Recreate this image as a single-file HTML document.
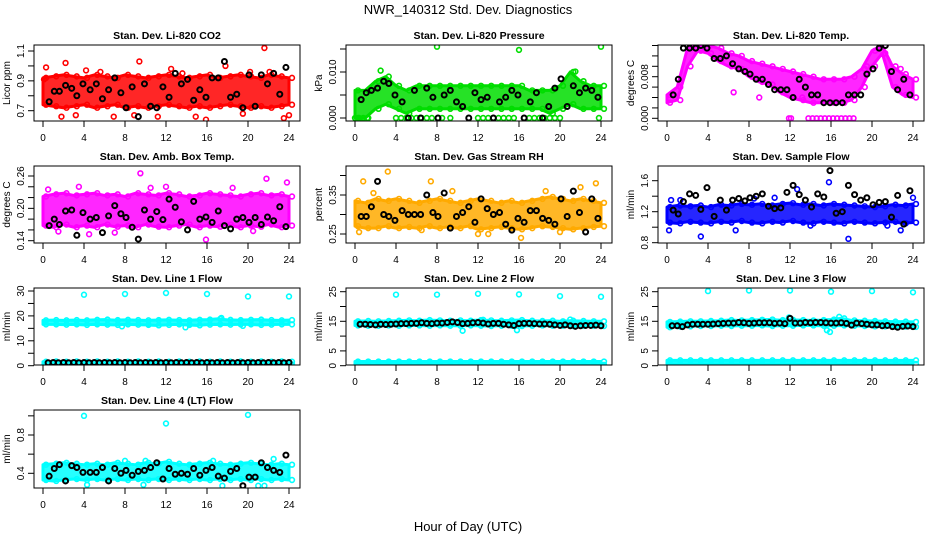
<!DOCTYPE html>
<html><head><meta charset="utf-8"><style>
body{margin:0;background:#fff}
svg{display:block;font-family:"Liberation Sans",Helvetica,Arial,sans-serif}
</style></head><body>
<svg id="chart" width="936" height="540" viewBox="0 0 936 540">
<text x="468" y="14" text-anchor="middle" font-size="13">NWR_140312  Std. Dev. Diagnostics</text>
<text x="468" y="531" text-anchor="middle" font-size="13">Hour of Day (UTC)</text>
</svg>
<script>
const hours=[0,1,2,3,4,5,6,7,8,9,10,11,12,13,14,15,16,17,18,19,20,21,22,23,24];
const xTicks=[0,4,8,12,16,20,24];
const bx=[0.6,1.1,1.6,2.2,2.8,3.3,3.9,4.6,5.2,5.8,6.4,7.0,7.6,8.1,8.7,9.3,9.9,10.5,11.1,11.7,12.3,12.9,13.5,14.1,14.7,15.3,15.9,16.5,17.1,17.7,18.3,18.9,19.5,20.1,20.7,21.3,21.9,22.5,23.1,23.7];
const bxl=[0.5,1,1.5,2,2.5,3,3.5,4,4.5,5,5.5,6,6.5,7,7.5,8,8.5,9,9.5,10,10.5,11,11.5,12,12.5,13,13.5,14,14.5,15,15.5,16,16.5,17,17.5,18,18.5,19,19.5,20,20.5,21,21.5,22,22.5,23,23.5,24];

// Panel 1 CO2
const co2Lo=[0.74,0.73,0.72,0.73,0.74,0.72,0.73,0.74,0.72,0.73,0.72,0.73,0.74,0.73,0.72,0.73,0.72,0.73,0.74,0.73,0.72,0.73,0.72,0.73,0.74];
const co2Hi=[0.92,0.93,0.94,0.93,0.92,0.94,0.93,0.92,0.94,0.93,0.92,0.93,0.94,0.93,0.92,0.93,0.94,0.92,0.93,0.94,0.93,0.92,0.94,0.93,0.92];
const co2Cx=[2.2,9.4,21.6,0.3,15.9,23.5,4.2,12.5,17.8,1.8,6.9,8.9,11.2,14.9,19.5,3.2,20.2,22.1,5.6,13.6,0.1,24];
const co2Cy=[1.02,1.03,1.12,0.99,0.64,0.65,0.97,0.98,1.0,0.66,0.66,0.67,0.66,0.66,0.68,0.67,0.96,0.96,0.96,0.95,0.91,0.67];
const co2Bk=[0.76,0.83,0.83,0.87,0.85,0.80,0.88,0.84,0.88,0.78,0.84,0.92,0.82,0.72,0.86,0.66,0.88,0.73,0.72,0.86,0.79,0.95,0.88,0.91,0.77,0.84,0.79,0.92,0.92,1.03,0.79,0.81,0.72,0.94,0.73,0.94,0.88,0.95,0.81,0.99];
// Panel 2 Pressure
const prLo=[0,0,0.002,0.003,0.002,0.001,0.002,0.002,0.002,0.002,0.002,0.002,0.002,0.002,0.002,0.002,0.002,0.002,0.002,0.001,0.002,0.003,0.002,0.002,0.002];
const prHi=[0.006,0.006,0.008,0.009,0.007,0.006,0.007,0.007,0.007,0.007,0.007,0.007,0.007,0.007,0.007,0.007,0.007,0.006,0.006,0.006,0.007,0.010,0.008,0.007,0.007];
const prCx=[0,0.4,0.8,1.2,4,4.5,5,5.5,6,6.5,7,7.5,8.5,9.3,12,12.5,13,13.5,14,14.5,15,15.5,16.5,17,17.5,18,18.5,19,19.5,20,23.8,8,16,24,2.5,21.5];
const prCy=[0,0,0,0,0,0,0,0,0,0,0,0,0,0,0,0,0,0,0,0,0,0,0,0,0,0,0,0,0,0,0,0.0155,0.0148,0.0155,0.0103,0.0101];
const prBk=[0.004,0.0055,0.006,0.0065,0.008,0.0075,0.005,0.0035,0,0.006,0.0,0.0065,0.0045,0.0,0.005,0.006,0.0035,0.0025,0.0,0.0055,0.004,0.0045,0.0,0.0035,0.0045,0.006,0.005,0.0,0.0035,0.0055,0.0,0.0025,0.0065,0.0085,0.0025,0.007,0.0055,0.0065,0.006,0.0045];
// Panel 3 Li-820 temp
const tmLo=[0.003,0.0035,0.010,0.013,0.0125,0.011,0.010,0.0095,0.008,0.007,0.0065,0.005,0.004,0.0035,0.003,0.003,0.003,0.003,0.0035,0.006,0.010,0.0125,0.006,0.0045,0.004];
const tmHi=[0.0045,0.006,0.0135,0.014,0.014,0.0135,0.0125,0.012,0.011,0.0105,0.010,0.0095,0.009,0.0085,0.008,0.0075,0.0075,0.0075,0.008,0.0095,0.013,0.014,0.010,0.0085,0.0075];
const tmCx=[11.9,12.1,13.8,14.2,14.6,15,15.4,15.8,16.2,16.6,17,17.4,17.8,18.2,6.5,9,13.2,2.8,22.8,19.5];
const tmCy=[0,0,0,0,0,0,0,0,0,0,0,0,0,0,0.005,0.004,0.004,0.0135,0.0095,0.010];
const tmBk=[0.0045,0.0075,0.0135,0.0135,0.0135,0.014,0.0135,0.0115,0.0115,0.012,0.0105,0.0095,0.009,0.0085,0.0075,0.0075,0.0065,0.0055,0.0055,0.0055,0.004,0.0075,0.006,0.0045,0.0045,0.003,0.003,0.003,0.003,0.0045,0.0045,0.0045,0.0085,0.0095,0.0135,0.014,0.009,0.0055,0.0075,0.0045];
// Panel 4 Amb box temp
const abLo=[0.168,0.165,0.17,0.165,0.168,0.165,0.17,0.166,0.168,0.165,0.17,0.166,0.165,0.168,0.17,0.165,0.168,0.166,0.17,0.165,0.168,0.166,0.17,0.165,0.168];
const abHi=[0.222,0.226,0.228,0.224,0.226,0.228,0.224,0.226,0.222,0.228,0.226,0.224,0.228,0.226,0.222,0.224,0.228,0.226,0.224,0.222,0.226,0.228,0.224,0.226,0.222];
const abCx=[9.5,21.8,23.8,3.5,15.9,1.5,7,12,0.5,18.5,10.5,4.5,20.5];
const abCy=[0.265,0.255,0.248,0.24,0.142,0.157,0.155,0.24,0.235,0.238,0.238,0.152,0.158];
const abBk=[0.168,0.18,0.17,0.195,0.197,0.15,0.192,0.18,0.183,0.155,0.186,0.205,0.19,0.183,0.165,0.143,0.197,0.18,0.194,0.179,0.217,0.202,0.175,0.16,0.213,0.18,0.184,0.174,0.195,0.168,0.162,0.18,0.183,0.174,0.183,0.17,0.184,0.177,0.203,0.166];
// Panel 5 Gas stream RH
const rhLo=[0.27,0.265,0.265,0.27,0.265,0.268,0.265,0.27,0.265,0.268,0.265,0.27,0.262,0.265,0.268,0.265,0.262,0.265,0.27,0.268,0.265,0.262,0.265,0.268,0.27];
const rhHi=[0.335,0.33,0.34,0.335,0.34,0.335,0.33,0.335,0.34,0.335,0.33,0.335,0.34,0.335,0.33,0.335,0.33,0.335,0.34,0.345,0.34,0.335,0.34,0.335,0.33];
const rhCx=[3.2,0.8,7.4,23.5,16.2,0.4,18.6,22,9.5,1.8,13,6.5,12,20];
const rhCy=[0.41,0.385,0.385,0.38,0.24,0.255,0.36,0.37,0.36,0.355,0.25,0.26,0.25,0.255];
const rhBk=[0.295,0.295,0.32,0.385,0.3,0.295,0.285,0.31,0.3,0.3,0.3,0.35,0.305,0.295,0.355,0.265,0.295,0.305,0.32,0.28,0.34,0.315,0.3,0.305,0.275,0.26,0.29,0.28,0.31,0.31,0.29,0.285,0.275,0.34,0.295,0.36,0.305,0.255,0.34,0.29];
// Panel 6 Sample flow
const sfLo=[1.06,1.05,1.07,1.06,1.05,1.07,1.06,1.08,1.06,1.05,1.07,1.06,1.08,1.06,1.05,1.07,1.06,1.05,1.07,1.06,1.05,1.06,1.07,1.05,1.06];
const sfHi=[1.26,1.28,1.27,1.28,1.26,1.29,1.28,1.30,1.29,1.30,1.28,1.30,1.31,1.29,1.30,1.28,1.30,1.29,1.28,1.27,1.26,1.27,1.29,1.28,1.30];
const sfCx=[15.8,3.3,17.7,6.7,0.2,12.7,24,0.4,10.5,14,21.5,22.8,1.3,8.5];
const sfCy=[1.58,0.88,0.85,0.96,0.96,1.49,1.38,1.35,1.38,1.02,1.02,0.96,1.35,1.37];
const sfBk=[1.22,1.17,1.33,1.43,1.41,1.23,1.51,1.14,1.35,1.22,1.35,1.37,1.34,1.38,1.4,1.43,1.27,1.24,1.25,1.45,1.54,1.42,1.35,1.26,1.43,1.39,1.73,1.18,1.2,1.54,1.42,1.35,1.38,1.29,1.32,1.33,1.13,1.41,1.04,1.47];
// Panel 7 Line 1 flow
const l1Lo=[16.6,16.6,16.5,16.6,16.4,16.6,16.5,16.4,16.6,16.5,16.4,16.2,16.4,16.6,16.4,16.2,16.5,16.6,16.5,16.6,16.6,16.4,16.5,16.6,16.6];
const l1Hi=[18.2,18.3,18.2,18.3,18.2,18.4,18.5,18.3,18.4,18.3,18.2,18.3,18.4,18.3,18.2,18.4,18.5,18.8,18.4,18.3,18.4,18.5,18.3,18.2,18.3];
const l1Lo2=[0.5,0.5,0.4,0.5,0.5,0.5,0.4,0.5,0.5,0.5,0.4,0.5,0.5,0.5,0.4,0.5,0.5,0.5,0.4,0.5,0.5,0.5,0.4,0.5,0.5];
const l1Hi2=[1.6,1.7,1.6,1.7,1.6,1.7,1.6,1.7,1.6,1.7,1.6,1.7,1.6,1.7,1.6,1.7,1.6,1.7,1.6,1.7,1.6,1.7,1.6,1.7,1.6];
const l1Cx=[4,8,12,16,20,24,7.7,13.9,17.4,19.5];
const l1Cy=[28.5,28.8,29.2,28.8,27.8,27.8,15.8,15.4,19.2,16];
const l1Bk=[1.2,1.3,1.2,1.3,1.2,1.3,1.2,1.3,1.2,1.3,1.2,1.3,1.2,1.3,1.2,1.3,1.2,1.3,1.2,1.3,1.2,1.3,1.2,1.3,1.2,1.3,1.2,1.3,1.2,1.3,1.2,1.3,1.2,1.3,1.2,1.3,1.2,1.3,1.2,1.3,1.2,1.3,1.2,1.3,1.2,1.3,1.2,1.3];
// Panel 8 Line 2 flow
const l2Lo=[13.6,13.5,13.5,13.6,13.5,13.6,13.6,13.5,13.6,13.5,13.5,13.6,13.5,13.4,13.5,13.5,13.4,13.5,13.6,13.5,13.5,13.4,13.5,13.5,13.4];
const l2Hi=[15,15.1,15,15.1,15.2,15.3,15.2,15.4,15.3,15.2,15.3,15.2,15.4,15.3,15.2,15.3,15.4,15.2,15.1,15.2,15,15.2,15.1,15,15];
const l2Lo2=[0.3,0.3,0.3,0.3,0.3,0.3,0.3,0.3,0.3,0.3,0.3,0.3,0.3,0.3,0.3,0.3,0.3,0.3,0.3,0.3,0.3,0.3,0.3,0.3,0.3];
const l2Hi2=[1.4,1.4,1.4,1.4,1.4,1.4,1.4,1.4,1.4,1.4,1.4,1.4,1.4,1.4,1.4,1.4,1.4,1.4,1.4,1.4,1.4,1.4,1.4,1.4,1.4];
const l2Cx=[4,8,12,16,20,24,10.5,15.8,12.5,21];
const l2Cy=[24,24,24.3,24.1,23.5,23.3,11.8,12,15.5,15.6];
const l2Bk=[14,14,13.9,13.8,14,13.9,14,14.1,14.2,14.2,14.3,14.3,14.5,14.3,14.2,14.4,14.4,14.6,14.8,14.6,14.2,14.3,14.5,14.6,14.4,14.1,14.3,14.3,14.0,13.8,13.6,14.2,14.3,14.3,14.2,14.1,14.1,14.0,13.8,13.6,13.8,13.5,13.3,13.5,13.6,13.6,13.7,13.5];
// Panel 9 Line 3 flow
const l3Lo=[13,13.2,13.3,13.4,13.4,13.5,13.4,13.5,13.5,13.6,13.4,13.5,13.5,13.6,13.6,13.5,13.5,13.6,13.5,13.4,13.3,13.3,13.2,13.2,13.1];
const l3Hi=[14.8,14.9,15,15,15.1,15.2,15.4,15.3,15.4,15.5,15.6,15.4,15.5,15.4,15.3,15.4,15.6,16,15.3,15.2,15.1,15,14.9,14.9,14.8];
const l3Lo2=[0.6,0.6,0.6,0.6,0.6,0.6,0.6,0.6,0.6,0.6,0.6,0.6,0.6,0.6,0.6,0.6,0.6,0.6,0.6,0.6,0.6,0.6,0.6,0.6,0.6];
const l3Hi2=[1.8,1.8,1.8,1.8,1.8,1.8,1.8,1.8,1.8,1.8,1.8,1.8,1.8,1.8,1.8,1.8,1.8,1.8,1.8,1.8,1.8,1.8,1.8,1.8,1.8];
const l3Cx=[4,8,12,16,20,24,15.6,15.9,11.9,16.8];
const l3Cy=[25.2,25.4,25.4,25,25.2,24.8,12,11.4,16.3,16.5];
const l3Bk=[13.5,13.5,13.2,13.8,14,14,14,14,14.1,14.2,14.3,14.4,14.4,14.6,14.5,14.3,14.4,14.5,14.5,14.5,14.3,14.4,14.2,16,14.4,14.4,14.6,14.5,14.6,14.6,14.5,14.4,14.4,14.5,14.3,13.7,14.4,14.2,14.0,13.8,13.8,13.5,13.6,13.2,13.0,13.3,13.4,13.2];
// Panel 10 Line 4 flow
const l4Lo=[0.33,0.32,0.33,0.34,0.33,0.34,0.33,0.34,0.33,0.34,0.33,0.34,0.33,0.34,0.33,0.34,0.33,0.34,0.33,0.34,0.33,0.34,0.33,0.34,0.33];
const l4Hi=[0.49,0.5,0.51,0.5,0.49,0.5,0.49,0.51,0.5,0.49,0.51,0.5,0.52,0.5,0.49,0.5,0.51,0.5,0.49,0.5,0.51,0.5,0.49,0.5,0.49];
const l4Cx=[4,12,20,8,10,22.5,17.5,21,4.3,9.8,16.6,21.6];
const l4Cy=[1.0,0.92,1.01,0.53,0.53,0.55,0.27,0.27,0.28,0.28,0.53,0.27];
const l4Bk=[0.37,0.45,0.49,0.32,0.48,0.46,0.41,0.41,0.41,0.46,0.32,0.45,0.4,0.43,0.38,0.42,0.43,0.46,0.51,0.34,0.45,0.39,0.4,0.39,0.45,0.38,0.43,0.46,0.37,0.35,0.42,0.45,0.27,0.36,0.36,0.51,0.46,0.43,0.41,0.59];

const NS='http://www.w3.org/2000/svg';
const svg=document.getElementById('chart');
function mk(tag,attrs,parent){const e=document.createElementNS(NS,tag);for(const k in attrs)e.setAttribute(k,attrs[k]);(parent||svg).appendChild(e);return e;}

const colL=[34,346,658], rowT=[45,166,288,410], rowB=[121,243,365,488];

const panels=[
 {key:'co2',title:'Stan. Dev. Li-820 CO2',ylab:'Licor ppm',c:0,r:0,v0:0.7,p0:110.7,v1:1.1,p1:51,ticks:[0.7,0.8,0.9,1.0,1.1],labs:['0.7','','0.9','','1.1'],col:'#ff0000',lo:co2Lo,hi:co2Hi,cx:co2Cx,cy:co2Cy,bkx:bx,bky:co2Bk},
 {key:'pressure',title:'Stan. Dev. Li-820 Pressure',ylab:'kPa',c:1,r:0,v0:0,p0:118,v1:0.01,p1:72,ticks:[0,0.005,0.01,0.015],labs:['0.000','','0.010',''],col:'#00dd00',lo:prLo,hi:prHi,cx:prCx,cy:prCy,bkx:bx,bky:prBk},
 {key:'li820-temp',title:'Stan. Dev. Li-820 Temp.',ylab:'degrees C',c:2,r:0,v0:0,p0:118.3,v1:0.008,p1:76.7,ticks:[0,0.002,0.004,0.006,0.008,0.010,0.012,0.014],labs:['0.000','','','','0.008','','',''],col:'#ff00ff',lo:tmLo,hi:tmHi,cx:tmCx,cy:tmCy,bkx:bx,bky:tmBk},
 {key:'amb-box-temp',title:'Stan. Dev. Amb. Box Temp.',ylab:'degrees C',c:0,r:1,v0:0.14,p0:240.7,v1:0.26,p1:176,ticks:[0.14,0.16,0.18,0.2,0.22,0.24,0.26],labs:['0.14','','','0.20','','','0.26'],col:'#ff00ff',lo:abLo,hi:abHi,cx:abCx,cy:abCy,bkx:bx,bky:abBk},
 {key:'gas-rh',title:'Stan. Dev. Gas Stream RH',ylab:'percent',c:1,r:1,v0:0.25,p0:234,v1:0.35,p1:195,ticks:[0.25,0.3,0.35,0.4],labs:['0.25','','0.35',''],col:'#ffaa00',lo:rhLo,hi:rhHi,cx:rhCx,cy:rhCy,bkx:bx,bky:rhBk},
 {key:'sample-flow',title:'Stan. Dev. Sample Flow',ylab:'ml/min',c:2,r:1,v0:0.8,p0:242.7,v1:1.6,p1:180.7,ticks:[0.8,1.0,1.2,1.4,1.6],labs:['0.8','','1.2','','1.6'],col:'#0000ff',lo:sfLo,hi:sfHi,cx:sfCx,cy:sfCy,bkx:bx,bky:sfBk},
 {key:'line1-flow',title:'Stan. Dev. Line 1 Flow',ylab:'ml/min',c:0,r:2,v0:0,p0:365.7,v1:30,p1:291,ticks:[0,5,10,15,20,25,30],labs:['0','','10','','20','','30'],col:'#00ffff',lo:l1Lo,hi:l1Hi,lo2:l1Lo2,hi2:l1Hi2,cx:l1Cx,cy:l1Cy,bkx:bxl,bky:l1Bk},
 {key:'line2-flow',title:'Stan. Dev. Line 2 Flow',ylab:'ml/min',c:1,r:2,v0:0,p0:365.7,v1:25,p1:291.7,ticks:[0,5,10,15,20,25],labs:['0','5','','15','','25'],col:'#00ffff',lo:l2Lo,hi:l2Hi,lo2:l2Lo2,hi2:l2Hi2,cx:l2Cx,cy:l2Cy,bkx:bxl,bky:l2Bk},
 {key:'line3-flow',title:'Stan. Dev. Line 3 Flow',ylab:'ml/min',c:2,r:2,v0:0,p0:365.7,v1:25,p1:291.7,ticks:[0,5,10,15,20,25],labs:['0','5','','15','','25'],col:'#00ffff',lo:l3Lo,hi:l3Hi,lo2:l3Lo2,hi2:l3Hi2,cx:l3Cx,cy:l3Cy,bkx:bxl,bky:l3Bk},
 {key:'line4-flow',title:'Stan. Dev. Line 4 (LT) Flow',ylab:'ml/min',c:0,r:3,v0:0.4,p0:473.3,v1:0.8,p1:435,ticks:[0.4,0.6,0.8,1.0],labs:['0.4','','0.8',''],col:'#00ffff',lo:l4Lo,hi:l4Hi,cx:l4Cx,cy:l4Cy,bkx:bx,bky:l4Bk}
];

panels.forEach(p=>{
 const L=colL[p.c],R=L+266,T=rowT[p.r],B=rowB[p.r];
 const xs=h=>L+9+h*(246/24);
 const ys=v=>p.p0+(v-p.v0)*(p.p1-p.p0)/(p.v1-p.v0);
 const g=mk('g',{});
 
 
 const t=mk('text',{x:(L+R)/2,y:T-6,'text-anchor':'middle','font-size':'10.5','font-weight':'bold'},g);
 t.textContent=p.title;
 
 
 const yl=mk('text',{transform:`translate(${L-24},${(T+B)/2}) rotate(-90)`,'text-anchor':'middle','font-size':'10'},g);
 yl.textContent=p.ylab;
 
 
 const clip='clip-'+p.key;
 const cp=mk('clipPath',{id:clip},g);
 mk('rect',{x:L,y:T,width:266,height:B-T},cp);
 const data=mk('g',{'clip-path':`url(#${clip})`},g);
 const bands=[[p.lo,p.hi]];
 if(p.lo2)bands.push([p.lo2,p.hi2]);
 bands.forEach(b=>{
  let pts=hours.map((h,i)=>xs(h)+','+ys(b[1][i]));
  pts=pts.concat(hours.slice().reverse().map((h,j)=>xs(h)+','+ys(b[0][hours.length-1-j])));
  const poly=mk('polygon',{points:pts.join(' '),fill:p.col,'fill-opacity':'0.85',stroke:p.col,'stroke-width':'3','stroke-linejoin':'round'},data);
  
  
  hours.forEach((h,i)=>{
   [b[0][i],b[1][i]].forEach(v=>{
    const c=mk('circle',{cx:xs(h)+3,cy:ys(v),r:2.4,fill:'none',stroke:p.col,'stroke-width':'1.6'},data);
    
    
   });
  });
 });
 p.cx.forEach((h,i)=>{
  const c=mk('circle',{cx:xs(h),cy:ys(p.cy[i]),r:2.4,fill:'none',stroke:p.col,'stroke-width':'1.6'},data);
  
  
 });
 p.bkx.forEach((h,i)=>{
  const c=mk('circle',{cx:xs(h),cy:ys(p.bky[i]),r:2.5,fill:'none',stroke:'#000','stroke-width':'2'},data);
  
  
 });
 const box=mk('rect',{x:L,y:T,width:266,height:B-T,fill:'none',stroke:'#000','stroke-width':'1'},g);
 
 
 xTicks.forEach(h=>{
  mk('line',{x1:xs(h),x2:xs(h),y1:B,y2:B+6,stroke:'#000'},g);
  const tl=mk('text',{x:xs(h),y:B+20,'text-anchor':'middle','font-size':'10'},g);
  tl.textContent=h;
  
  
 });
 p.ticks.forEach((v,i)=>{
  const y=ys(v);
  mk('line',{x1:L-6,x2:L,y1:y,y2:y,stroke:'#000'},g);
  if(p.labs[i]){
   const tl=mk('text',{transform:`translate(${L-10},${y}) rotate(-90)`,'text-anchor':'middle','font-size':'10'},g);
   tl.textContent=p.labs[i];
   
   
  }
 });
});
</script>
</body></html>
